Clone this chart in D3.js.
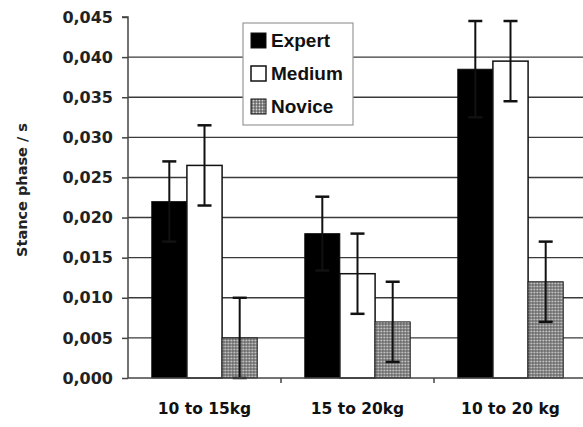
<!DOCTYPE html>
<html><head><meta charset="utf-8">
<script src="https://cdn.jsdelivr.net/npm/d3@7"></script>
<style>html,body{margin:0;padding:0;background:#fff;}svg{display:block;}</style>
</head><body>
<svg id="c" width="583" height="427"></svg>
<script>
const categories = ["10 to 15kg", "15 to 20kg", "10 to 20 kg"];
const seriesNames = ["Expert", "Medium", "Novice"];
const expertValues = [0.022, 0.018, 0.0385];
const expertErrors = [0.005, 0.0046, 0.006];
const mediumValues = [0.0265, 0.013, 0.0395];
const mediumErrors = [0.005, 0.005, 0.005];
const noviceValues = [0.005, 0.007, 0.012];
const noviceErrors = [0.005, 0.005, 0.005];
const yTicks = [0, 0.005, 0.01, 0.015, 0.02, 0.025, 0.03, 0.035, 0.04, 0.045];
const yTickLabels = ["0,000","0,005","0,010","0,015","0,020","0,025","0,030","0,035","0,040","0,045"];
const yLabel = "Stance phase / s";

const series = [
  {name: seriesNames[0], values: expertValues, errors: expertErrors},
  {name: seriesNames[1], values: mediumValues, errors: mediumErrors},
  {name: seriesNames[2], values: noviceValues, errors: noviceErrors}
];

const svg = d3.select("#c");
const defs = svg.append("defs");
const pat = defs.append("pattern").attr("id","dots").attr("patternUnits","userSpaceOnUse")
  .attr("width",3).attr("height",3);
pat.append("rect").attr("width",3).attr("height",3).attr("fill","#6a6a6a");
pat.append("circle").attr("cx",1.5).attr("cy",1.5).attr("r",0.9).attr("fill","#d8d8d8");

const pLeft = 128, pRight = 587, pTop = 17, pBottom = 378;
const y = d3.scaleLinear().domain([0, 0.045]).range([pBottom, pTop]);
const x0 = d3.scaleBand().domain(categories).range([pLeft, pRight]).paddingInner(0.31).paddingOuter(0.155);
const x1 = d3.scaleBand().domain(seriesNames).range([0, x0.bandwidth()]);

const fills = {Expert: "#000", Medium: "#fff", Novice: "url(#dots)"};

// gridlines
svg.append("g").selectAll("line").data(yTicks.filter(t => t > 0 && t < 0.045)).join("line")
  .attr("x1", pLeft).attr("x2", 583).attr("y1", d => y(d)).attr("y2", d => y(d))
  .attr("stroke", "#3a3a3a").attr("stroke-width", 1.4);

// y axis
const yAxis = d3.axisLeft(y).tickValues(yTicks).tickFormat((d,i) => yTickLabels[i]).tickSize(6).tickPadding(9);
const ya = svg.append("g").attr("transform", `translate(${pLeft},0)`).call(yAxis);
ya.select(".domain").attr("stroke", "#444").attr("stroke-width", 1.5).attr("d", `M-6,${pTop}H0V${pBottom}`);
ya.selectAll(".tick line").attr("stroke", "#444").attr("stroke-width", 1.5);
ya.selectAll(".tick text").attr("font-family", "DejaVu Sans").attr("font-weight", "bold")
  .attr("font-size", 16).attr("fill", "#222");

// bars
const groups = svg.append("g").selectAll("g").data(categories).join("g")
  .attr("transform", d => `translate(${x0(d)},0)`);
series.forEach(s => {
  groups.append("rect")
    .attr("x", (d) => x1(s.name))
    .attr("width", x1.bandwidth())
    .attr("y", (d, i) => y(s.values[i]))
    .attr("height", (d, i) => pBottom - y(s.values[i]))
    .attr("fill", fills[s.name])
    .attr("stroke", "#111").attr("stroke-width", s.name === "Medium" ? 1.5 : 0.8);
});
// error bars
series.forEach(s => {
  const cx = x1(s.name) + x1.bandwidth() / 2;
  groups.each(function(d, i) {
    const g = d3.select(this);
    const hi = y(s.values[i] + s.errors[i]), lo = y(Math.max(0, s.values[i] - s.errors[i]));
    g.append("line").attr("x1", cx).attr("x2", cx).attr("y1", hi).attr("y2", lo)
      .attr("stroke", "#111").attr("stroke-width", 2);
    [hi, lo].forEach(v => g.append("line").attr("x1", cx - 7).attr("x2", cx + 7)
      .attr("y1", v).attr("y2", v).attr("stroke", "#111").attr("stroke-width", 2.5));
  });
});

// x axis baseline
svg.append("line").attr("x1", pLeft).attr("x2", 583).attr("y1", pBottom).attr("y2", pBottom)
  .attr("stroke", "#444").attr("stroke-width", 1.5);
const step = x0.step();
categories.slice(1).forEach((c) => {
  const bx = x0(c) - step * 0.155;
  svg.append("line").attr("x1", bx).attr("x2", bx).attr("y1", pBottom).attr("y2", pBottom + 5)
    .attr("stroke", "#444").attr("stroke-width", 1.5);
});
svg.append("g").selectAll("text").data(categories).join("text")
  .attr("x", d => x0(d) + x0.bandwidth() / 2).attr("y", 414)
  .attr("text-anchor", "middle").attr("font-family", "DejaVu Sans").attr("font-weight", "bold")
  .attr("font-size", 15.5).attr("fill", "#111").text(d => d);

// y label
svg.append("text").attr("transform", "translate(27,190) rotate(-90)")
  .attr("text-anchor", "middle").attr("font-family", "DejaVu Sans").attr("font-weight", "bold")
  .attr("font-size", 14.5).attr("fill", "#222").text(yLabel);

// legend
const lg = svg.append("g");
lg.append("rect").attr("x", 243).attr("y", 23).attr("width", 110).attr("height", 102)
  .attr("fill", "#fff").attr("stroke", "#999").attr("stroke-width", 1.2);
series.forEach((s, i) => {
  const cy = 40 + i * 33;
  lg.append("rect").attr("x", 251).attr("y", cy - 7).attr("width", 15).attr("height", 15)
    .attr("fill", fills[s.name]).attr("stroke", "#111").attr("stroke-width", s.name === "Medium" ? 1.5 : 1);
  lg.append("text").attr("x", 271).attr("y", cy + 7).attr("font-family", "Liberation Sans")
    .attr("font-weight", "bold").attr("font-size", 19).attr("fill", "#111").text(s.name);
});
</script>
</body></html>
